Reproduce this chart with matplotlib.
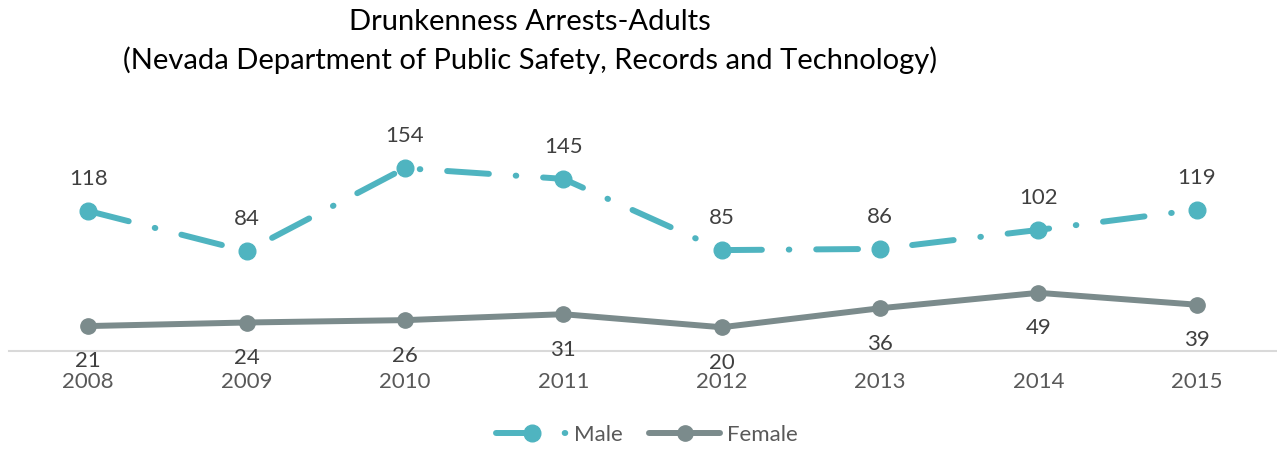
import matplotlib.pyplot as plt

years = ['2008', '2009', '2010', '2011', '2012', '2013', '2014', '2015']
male = [118, 84, 154, 145, 85, 86, 102, 119]
female = [21, 24, 26, 31, 20, 36, 49, 39]

MALE_C = '#4FB4C0'
FEMALE_C = '#7B8B8C'

plt.rcParams['font.family'] = ['Lato', 'DejaVu Sans']

fig = plt.figure(figsize=(12.77, 4.49), dpi=100)
# axes spans pixel x 9..1276, y 110..351
ax = fig.add_axes([9 / 1277, (449 - 351) / 449, 1267 / 1277, 241 / 449])

x = list(range(len(years)))
ax.plot(x, male, color=MALE_C, lw=4.3, marker='o', ms=12,
        dashes=(7, 4.5, 0.1, 4.5), dash_capstyle='round', label='Male')
ax.plot(x, female, color=FEMALE_C, lw=4.3, marker='o', ms=11,
        solid_capstyle='round', label='Female')

for i in x:
    ax.annotate(str(male[i]), (i, male[i]), xytext=(0, 23), textcoords='offset points',
                ha='center', va='center', fontsize=16, color='#404040')
    ax.annotate(str(female[i]), (i, female[i]), xytext=(0, -25.5), textcoords='offset points',
                ha='center', va='center', fontsize=16, color='#404040')

ax.set_xlim(-0.5, len(years) - 0.5)
ax.set_ylim(0, 203)
ax.set_xticks(x)
ax.set_xticklabels(years, fontsize=16, color='#595959')
ax.tick_params(axis='x', length=0, pad=15)
ax.set_yticks([])
for s in ['top', 'right', 'left']:
    ax.spines[s].set_visible(False)
ax.spines['bottom'].set_color('#D9D9D9')
ax.spines['bottom'].set_linewidth(1.5)

fig.text(530 / 1277, 1 - 22 / 449, 'Drunkenness Arrests-Adults', ha='center', va='center',
         fontsize=21, color='#000000')
fig.text(530 / 1277, 1 - 60 / 449, '(Nevada Department of Public Safety, Records and Technology)',
         ha='center', va='center', fontsize=21, color='#000000')

fig.legend(loc='center', bbox_to_anchor=(647 / 1277, 1 - 435 / 449), ncol=2, frameon=False,
           fontsize=16, labelcolor='#595959', handlelength=3.2, handletextpad=0.3,
           columnspacing=1.2)

fig.savefig('out.png', dpi=100)
